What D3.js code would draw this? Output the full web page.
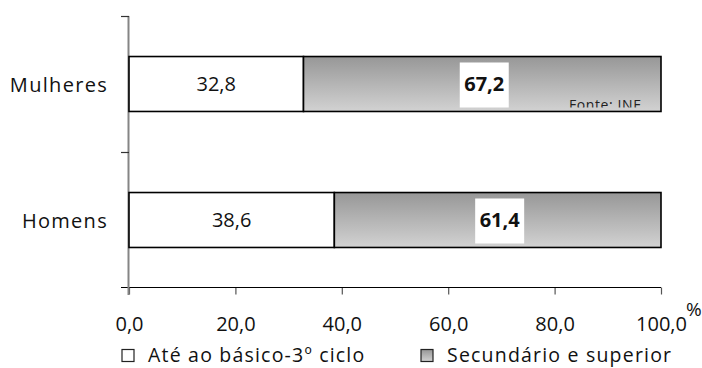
<!DOCTYPE html>
<html>
<head>
<meta charset="utf-8">
<script src="https://cdn.jsdelivr.net/npm/d3@7"></script>
<style>
  html, body { margin: 0; padding: 0; background: #fff; }
  svg { display: block; font-family: "Open Sans", "Liberation Sans", sans-serif; }
</style>
</head>
<body>
<svg id="chart" width="702" height="368"></svg>
<script>
// Education level by sex (%)
const categories = ["Mulheres", "Homens"];
const basico = [32.8, 38.6];       // Até ao básico-3º ciclo
const secundario = [67.2, 61.4];   // Secundário e superior
const seriesNames = ["Até ao básico-3º ciclo", "Secundário e superior"];
const xTicks = [0, 20, 40, 60, 80, 100];
const sourceNote = "Fonte: INE";
const unitLabel = "%";

const svg = d3.select("#chart");
const pt = d3.formatLocale({ decimal: ",", thousands: ".", grouping: [3], currency: ["", "€"] });
const fmt = pt.format(".1f");

const x = d3.scaleLinear().domain([0, 100]).range([129, 661]);
const y = d3.scaleBand().domain(categories).range([16, 288])
  .paddingInner(0.596).paddingOuter(0.298);

// gradient for the upper-level segment
const defs = svg.append("defs");
const grad = defs.append("linearGradient").attr("id", "greyGrad")
  .attr("x1", 0).attr("y1", 0).attr("x2", 0).attr("y2", 1);
grad.append("stop").attr("offset", "0%").attr("stop-color", "#979797");
grad.append("stop").attr("offset", "100%").attr("stop-color", "#d2d2d2");

// stacked data
const rows = categories.map((c, i) => ({ cat: c, a: basico[i], b: secundario[i] }));

// x axis
const xAxis = svg.append("g").attr("transform", "translate(0,287.5)")
  .call(d3.axisBottom(x).tickValues(xTicks).tickSize(7).tickFormat(fmt).tickSizeOuter(0));
xAxis.select(".domain").remove();
xAxis.append("line").attr("x1", 121).attr("x2", 661).attr("y1", 0).attr("y2", 0)
  .attr("stroke", "#000").attr("stroke-width", 1.2);
xAxis.selectAll(".tick line").attr("stroke", "#555").attr("stroke-width", 1.2);
xAxis.selectAll(".tick text").attr("y", 0).attr("dy", 43.5)
  .attr("font-size", 20).attr("fill", "#111")
  .attr("font-family", "'Open Sans', sans-serif");

// % unit
svg.append("text").attr("x", 686).attr("y", 316).attr("font-size", 19)
  .attr("fill", "#111").text(unitLabel);

// y axis
const yAxisG = svg.append("g");
yAxisG.append("line").attr("x1", 128.5).attr("x2", 128.5).attr("y1", 16).attr("y2", 295)
  .attr("stroke", "#858585").attr("stroke-width", 2);
const yBounds = [16, 16 + y.step(), 16 + 2 * y.step()];
yAxisG.selectAll(".ytick").data(yBounds.slice(0, 2)).join("line")
  .attr("x1", 121).attr("x2", 129).attr("y1", d => d + 0.5).attr("y2", d => d + 0.5)
  .attr("stroke", "#333").attr("stroke-width", 1.2);

// category labels
svg.selectAll(".cat").data(categories).join("text")
  .attr("x", 108).attr("y", d => y(d) + y.bandwidth() / 2 + 8)
  .attr("text-anchor", "end").attr("font-size", 20).attr("letter-spacing", 1.3)
  .attr("fill", "#111").text(d => d);

// bars
const barG = svg.append("g");
barG.selectAll(".barA").data(rows).join("rect")
  .attr("x", x(0)).attr("y", d => y(d.cat))
  .attr("width", d => x(d.a) - x(0)).attr("height", y.bandwidth())
  .attr("fill", "#fff").attr("stroke", "#000").attr("stroke-width", 1.6);
barG.selectAll(".barB").data(rows).join("rect")
  .attr("x", d => x(d.a)).attr("y", d => y(d.cat))
  .attr("width", d => x(d.a + d.b) - x(d.a)).attr("height", y.bandwidth())
  .attr("fill", "url(#greyGrad)").attr("stroke", "#000").attr("stroke-width", 1.6);

// source note inside top bar, clipped at its lower edge
const topCat = categories[0];
defs.append("clipPath").attr("id", "noteClip").append("rect")
  .attr("x", x(0)).attr("y", y(topCat)).attr("width", x(100) - x(0))
  .attr("height", y.bandwidth() - 4);
svg.append("text").attr("clip-path", "url(#noteClip)")
  .attr("x", 569).attr("y", y(topCat) + y.bandwidth() - 1)
  .attr("font-size", 14).attr("letter-spacing", 0.6).attr("fill", "#222")
  .text(sourceNote);

// value labels
const labG = svg.append("g");
rows.forEach(d => {
  const cy = y(d.cat) + y.bandwidth() / 2;
  labG.append("text").attr("x", (x(0) + x(d.a)) / 2).attr("y", cy + 7)
    .attr("text-anchor", "middle").attr("font-size", 20).attr("fill", "#111")
    .text(fmt(d.a));
  const cx = (x(d.a) + x(d.a + d.b)) / 2 + 2;
  labG.append("rect").attr("x", cx - 24.5).attr("y", cy - 21.5)
    .attr("width", 49).attr("height", 45).attr("fill", "#fff");
  labG.append("text").attr("x", cx).attr("y", cy + 7)
    .attr("text-anchor", "middle").attr("font-size", 20).attr("font-weight", "bold")
    .attr("fill", "#111").text(fmt(d.b));
});

// legend
const legend = [
  { name: seriesNames[0], fill: "#fff", sx: 122, tx: 148 },
  { name: seriesNames[1], fill: "url(#greyGrad)", sx: 421, tx: 447 }
];
const lg = svg.append("g");
legend.forEach(l => {
  lg.append("rect").attr("x", l.sx).attr("y", 349.5).attr("width", 12).attr("height", 12)
    .attr("fill", l.fill).attr("stroke", "#222").attr("stroke-width", 1.2);
  lg.append("text").attr("x", l.tx).attr("y", 362).attr("font-size", 19.5)
    .attr("letter-spacing", 1.2).attr("fill", "#111").text(l.name);
});
</script>
</body>
</html>
